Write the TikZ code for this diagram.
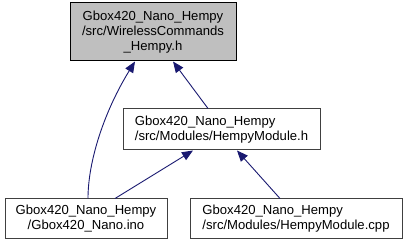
\documentclass[tikz,border=0pt]{standalone}
\usepackage{fontspec}
\setmainfont{Liberation Sans}
\usetikzlibrary{arrows.meta}
\definecolor{edgeblue}{HTML}{191970}
\definecolor{boxgray}{HTML}{BFBFBF}
\tikzset{>={Triangle[length=11pt,width=9pt]}}
\tikzset{
    file/.style={draw=black!75,line width=1pt,inner sep=0pt,
        font=\fontsize{13.1}{15}\selectfont},
    dep/.style={<-,edgeblue,line width=0.9pt}
}

\begin{document}
\begin{tikzpicture}[x=1pt,y=-1pt]
        \useasboundingbox (0,0) rectangle (406,245);

        \node[file,fill=boxgray,draw=black,minimum width=166pt,minimum height=58pt,align=center]
            (cmds) at (153,32) {Gbox420\_Nano\_Hempy\\/src/WirelessCommands\\\_Hempy.h};
        \node[file,minimum width=197pt,minimum height=41pt,align=left]
            (modh) at (221.5,129.5) {Gbox420\_Nano\_Hempy\\/src/Modules/HempyModule.h};
        \node[file,minimum width=162pt,minimum height=40pt,align=center]
            (ino) at (86,219) {Gbox420\_Nano\_Hempy\\/Gbox420\_Nano.ino};
        \node[file,minimum width=212pt,minimum height=40pt,align=left]
            (modcpp) at (296,219) {Gbox420\_Nano\_Hempy\\/src/Modules/HempyModule.cpp};

        \draw[dep] ([xshift=20pt]cmds.south) -- ([xshift=-13.5pt]modh.north);
        \draw[dep] ([xshift=-18pt]cmds.south) .. controls (105,110) and (88,160) .. ([xshift=2pt]ino.north);
        \draw[dep] ([xshift=-28.5pt]modh.south) -- ([xshift=29pt]ino.north);
        \draw[dep] ([xshift=15.5pt]modh.south) -- ([xshift=-16pt]modcpp.north);
    \end{tikzpicture}
\end{document}
